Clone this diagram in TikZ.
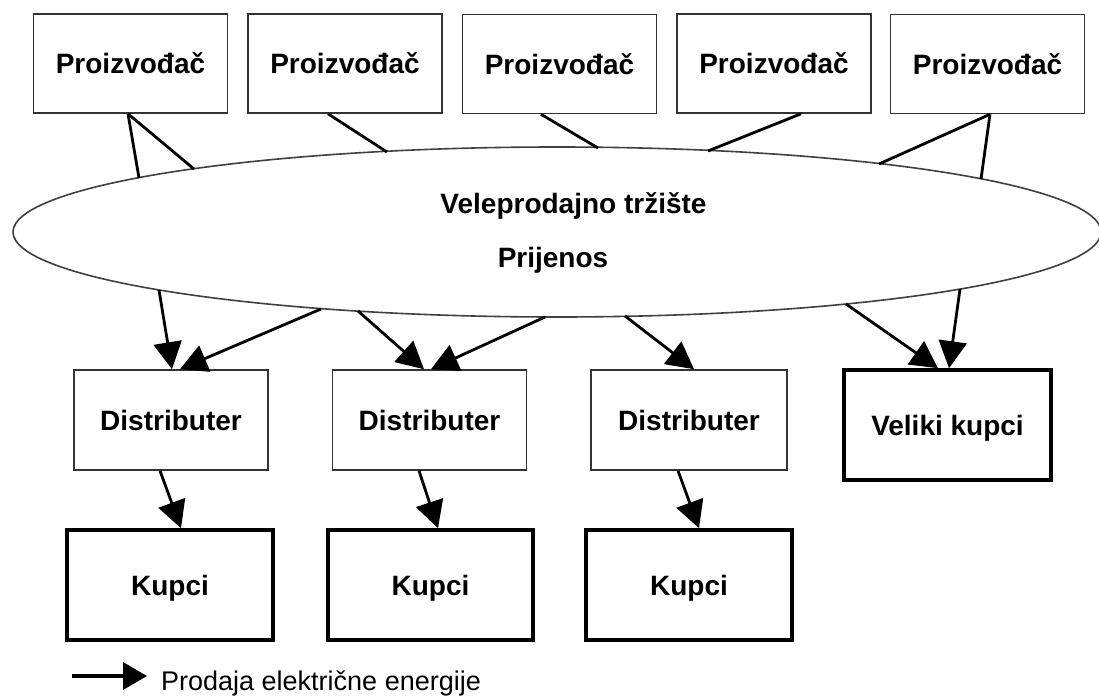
\documentclass[tikz,border=0pt]{standalone}
\usepackage{fontspec}
\setmainfont{Liberation Sans}
\usetikzlibrary{arrows.meta,shapes.geometric}
\begin{document}
\begin{tikzpicture}[x=1pt,y=-1pt,
  box/.style={draw=black!80, line width=1.6pt, rectangle, inner sep=0pt,
    text height=20pt, text depth=0pt,
    font=\fontsize{28pt}{30pt}\selectfont\bfseries},
  topbox/.style={box, minimum width=194pt, minimum height=99pt},
  distbox/.style={box, minimum width=194pt, minimum height=100pt},
  thickbox/.style={box, draw=black, line width=3.6pt, minimum width=206pt, minimum height=110pt},
  market/.style={draw=black!75, line width=1.6pt, ellipse, inner sep=0pt,
    minimum width=1088pt, minimum height=170pt},
  lbl/.style={font=\fontsize{28pt}{30pt}\selectfont\bfseries, inner sep=0pt, anchor=base},
  conn/.style={line width=2.8pt},
  arr/.style={conn, -{Triangle[length=27pt,width=28pt]}},
  legarr/.style={line width=3.8pt, -{Triangle[length=24pt,width=27pt]}},
  legtext/.style={font=\fontsize{27pt}{29pt}\selectfont, inner sep=0pt, anchor=base west}]

\fill[white] (0,0) rectangle (1099,696);
\useasboundingbox (0,0) rectangle (1099,696);

% market ellipse
\node[market] (ell) at (557,232) {};
\node[lbl] (t1) at (573.5,213) {Veleprodajno tržište};
\node[lbl] (t2) at (553,267) {Prijenos};

% producers
\node[topbox] (b1) at (130.5,63.5) {Proizvođač};
\node[topbox] (b2) at (345,63.5) {Proizvođač};
\node[topbox] (b3) at (559.5,64) {Proizvođač};
\node[topbox] (b4) at (774,63.5) {Proizvođač};
\node[topbox] (b5) at (987.5,64) {Proizvođač};

% distributors and customers
\node[distbox] (d1) at (171,420) {Distributer};
\node[distbox] (d2) at (429.5,420) {Distributer};
\node[distbox, minimum width=196pt] (d3) at (689,420) {Distributer};
\node[thickbox, minimum width=207pt] (vk) at (947.5,425) {Veliki kupci};
\node[thickbox] (k1) at (170,585) {Kupci};
\node[thickbox, minimum width=205pt] (k2) at (430.5,585) {Kupci};
\node[thickbox] (k3) at (689,585) {Kupci};

% points on the ellipse border
\coordinate (e1a) at (139,178);
\coordinate (e1b) at (194,169);
\coordinate (e2) at (387,152);
\coordinate (e3) at (598,148);
\coordinate (e4) at (708,151);
\coordinate (e5a) at (879,164);
\coordinate (e5b) at (981,179);
\coordinate (s1a) at (159,290);
\coordinate (s1b) at (321,309);
\coordinate (s2a) at (358,311);
\coordinate (s2b) at (545,317);
\coordinate (s3) at (625,316);
\coordinate (s4a) at (846,304);
\coordinate (s4b) at (960,289);

% producers to market
\draw[conn] ([xshift=-2.5pt]b1.south) -- (e1a);
\draw[conn] ([xshift=-2.5pt]b1.south) -- (e1b);
\draw[conn] ([xshift=-17pt]b2.south) -- (e2);
\draw[conn] ([xshift=-18.5pt]b3.south) -- (e3);
\draw[conn] ([xshift=27pt]b4.south) -- (e4);
\draw[conn] ([xshift=2.5pt]b5.south) -- (e5a);
\draw[conn] ([xshift=2.5pt]b5.south) -- (e5b);

% market to distributors / large customers
\draw[arr] (s1a) -- ([xshift=1pt]d1.north);
\draw[arr] (s1b) -- ([xshift=9pt]d1.north);
\draw[arr] (s2a) -- ([xshift=-5.5pt]d2.north);
\draw[arr] (s2b) -- ([xshift=1.5pt]d2.north);
\draw[arr] (s3) -- ([xshift=5pt]d3.north);
\draw[arr] (s4a) -- ([xshift=-9.5pt]vk.north);
\draw[arr] (s4b) -- ([xshift=1.5pt]vk.north);

% distributors to customers
\draw[arr] ([xshift=-11pt]d1.south) -- ([xshift=11pt]k1.north);
\draw[arr] ([xshift=-10.5pt]d2.south) -- ([xshift=7.5pt]k2.north);
\draw[arr] ([xshift=-11pt]d3.south) -- ([xshift=10pt]k3.north);

% legend
\coordinate (la) at (72,676);
\coordinate (lb) at (147,676);
\draw[legarr] (la) -- (lb);
\node[legtext] (leg) at (161,690) {Prodaja električne energije};
\end{tikzpicture}
\end{document}
